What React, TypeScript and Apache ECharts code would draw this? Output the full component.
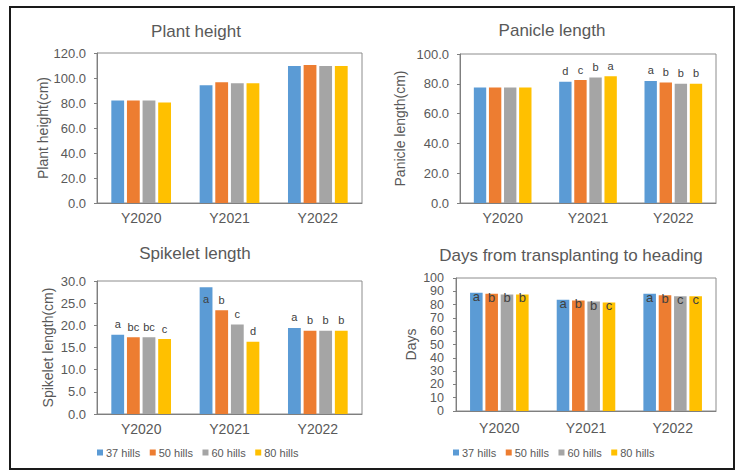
import React, { useEffect, useRef } from "react";
import * as echarts from "echarts";

const categories = ["Y2020", "Y2021", "Y2022"];
const seriesNames = ["37 hills", "50 hills", "60 hills", "80 hills"];
const colors = ["#5B9BD5", "#ED7D31", "#A5A5A5", "#FFC000"];

// Plant height (cm)
const plantHeight37 = [82.0, 94.3, 109.6];
const plantHeight50 = [82.0, 96.7, 110.4];
const plantHeight60 = [82.0, 95.9, 109.6];
const plantHeight80 = [80.5, 95.9, 109.6];

// Panicle length (cm)
const panicle37 = [77.5, 81.3, 81.9];
const panicle50 = [77.5, 82.5, 80.8];
const panicle60 = [77.5, 84.2, 80.1];
const panicle80 = [77.5, 85.1, 80.1];
const panicleLetters37 = ["", "d", "a"];
const panicleLetters50 = ["", "c", "b"];
const panicleLetters60 = ["", "b", "b"];
const panicleLetters80 = ["", "a", "b"];

// Spikelet length (cm)
const spikelet37 = [17.9, 28.6, 19.4];
const spikelet50 = [17.3, 23.4, 18.8];
const spikelet60 = [17.3, 20.2, 18.8];
const spikelet80 = [16.9, 16.3, 18.8];
const spikeletLetters37 = ["a", "a", "a"];
const spikeletLetters50 = ["bc", "b", "b"];
const spikeletLetters60 = ["bc", "c", "b"];
const spikeletLetters80 = ["c", "d", "b"];

// Days from transplanting to heading
const days37 = [88.9, 83.6, 88.1];
const days50 = [88.1, 83.1, 87.1];
const days60 = [87.6, 82.3, 86.3];
const days80 = [87.6, 81.6, 86.3];
const daysLetters37 = ["a", "a", "a"];
const daysLetters50 = ["b", "b", "b"];
const daysLetters60 = ["b", "b", "c"];
const daysLetters80 = ["b", "c", "c"];

// Y axis ranges
const yMax = [120, 100, 30, 100];
const yInterval = [20, 20, 5, 10];

const FONT = "'Liberation Sans', Arial, sans-serif";
const GRAY = "#595959";

export default function App() {
  const ref = useRef<HTMLDivElement>(null);
  useEffect(() => {
    if (!ref.current) return;
    const chart = echarts.init(ref.current, undefined, { renderer: "svg" });

    const grids = [
      { left: 97, top: 53, width: 265, height: 150 },
      { left: 460, top: 54, width: 256, height: 149 },
      { left: 97, top: 281, width: 265, height: 133 },
      { left: 456, top: 278, width: 260, height: 133 },
    ];
    const yNames = ["Plant height(cm)", "Panicle length(cm)", "Spikelet length(cm)", "Days"];
    const yNameGaps = [46, 53, 42, 38];
    const decimals = [1, 1, 1, 0];

    const panelValues = [
      [plantHeight37, plantHeight50, plantHeight60, plantHeight80],
      [panicle37, panicle50, panicle60, panicle80],
      [spikelet37, spikelet50, spikelet60, spikelet80],
      [days37, days50, days60, days80],
    ];
    const panelLetters: (string[] | null)[][] = [
      [null, null, null, null],
      [panicleLetters37, panicleLetters50, panicleLetters60, panicleLetters80],
      [spikeletLetters37, spikeletLetters50, spikeletLetters60, spikeletLetters80],
      [daysLetters37, daysLetters50, daysLetters60, daysLetters80],
    ];

    const series: any[] = [];
    panelValues.forEach((vals, p) => {
      vals.forEach((arr, s) => {
        const letters = panelLetters[p][s];
        series.push({
          type: "bar",
          name: seriesNames[s],
          xAxisIndex: p,
          yAxisIndex: p,
          barWidth: "14.5%",
          barGap: "22%",
          itemStyle: { color: colors[s] },
          data: arr.map((v, i) => {
            const item: any = { value: v };
            if (letters && letters[i]) {
              let position = "top";
              let distance = 5;
              let fontSize = 11;
              let offset = [0, 0];
              if (p === 3) {
                position = "insideTop";
                distance = 1;
                fontSize = 13;
                offset = [0, -4];
              }
              if (p === 2 && i === 1 && s === 0) {
                position = "insideTop";
                distance = 6;
              }
              item.label = {
                show: true,
                position,
                distance,
                offset,
                formatter: letters[i],
                color: "#404040",
                fontSize,
                fontFamily: FONT,
              };
            }
            return item;
          }),
        });
      });
    });

    const titles = [
      { text: "Plant height", x: 196, y: 31, size: 17 },
      { text: "Panicle length", x: 552, y: 30, size: 17 },
      { text: "Spikelet length", x: 195, y: 253, size: 17 },
      { text: "Days from transplanting to heading", x: 571, y: 255, size: 17 },
    ];

    chart.setOption({
      animation: false,
      backgroundColor: "#ffffff",
      textStyle: { fontFamily: FONT },
      grid: grids.map((g) => ({
        ...g,
        show: true,
        borderColor: "#8c8c8c",
        borderWidth: 1,
        backgroundColor: "transparent",
        containLabel: false,
      })),
      xAxis: grids.map((_, p) => ({
        type: "category",
        gridIndex: p,
        data: categories,
        axisLine: { show: true, lineStyle: { color: "#7f7f7f", width: 1 } },
        axisTick: { show: false },
        axisLabel: { color: GRAY, fontSize: 14, margin: p === 3 ? 10 : 8, fontFamily: FONT },
        splitLine: { show: false },
      })),
      yAxis: grids.map((_, p) => ({
        type: "value",
        gridIndex: p,
        min: 0,
        max: yMax[p],
        interval: yInterval[p],
        name: yNames[p],
        nameLocation: "middle",
        nameGap: yNameGaps[p],
        nameTextStyle: { color: GRAY, fontSize: 14, fontFamily: FONT },
        axisLine: { show: true, lineStyle: { color: "#7f7f7f", width: 1 } },
        axisTick: { show: true, inside: false, length: 3, lineStyle: { color: "#7f7f7f" } },
        splitLine: { show: false },
        axisLabel: {
          color: GRAY,
          fontSize: p === 3 ? 12.5 : 13,
          lineHeight: p === 3 ? 12 : 15,
          margin: p === 3 ? 12 : 11,
          fontFamily: FONT,
          formatter: (v: number) => v.toFixed(decimals[p]),
        },
      })),
      legend: [
        { left: 97, top: 447 },
        { left: 453, top: 447 },
      ].map((l) => ({
        ...l,
        data: seriesNames,
        icon: "rect",
        itemWidth: 6,
        itemHeight: 6,
        itemGap: 9.5,
        padding: 0,
        selectedMode: false,
        textStyle: { color: GRAY, fontSize: 11, fontFamily: FONT, padding: [0, 0, 0, -2] },
      })),
      graphic: [
        {
          type: "rect",
          shape: { x: 10, y: 7, width: 724, height: 462 },
          style: { fill: "none", stroke: "#1a1a1a", lineWidth: 2 },
          silent: true,
        },
        ...titles.map((t) => ({
          type: "text",
          x: t.x,
          y: t.y,
          style: {
            text: t.text,
            fill: GRAY,
            fontSize: t.size,
            fontFamily: FONT,
            textAlign: "center",
            textVerticalAlign: "middle",
          },
        })),
      ],
      series,
    });

    return () => chart.dispose();
  }, []);

  return (
    <div
      ref={ref}
      style={{ position: "absolute", left: 0, top: 0, width: 743, height: 472, background: "#fff" }}
    />
  );
}
